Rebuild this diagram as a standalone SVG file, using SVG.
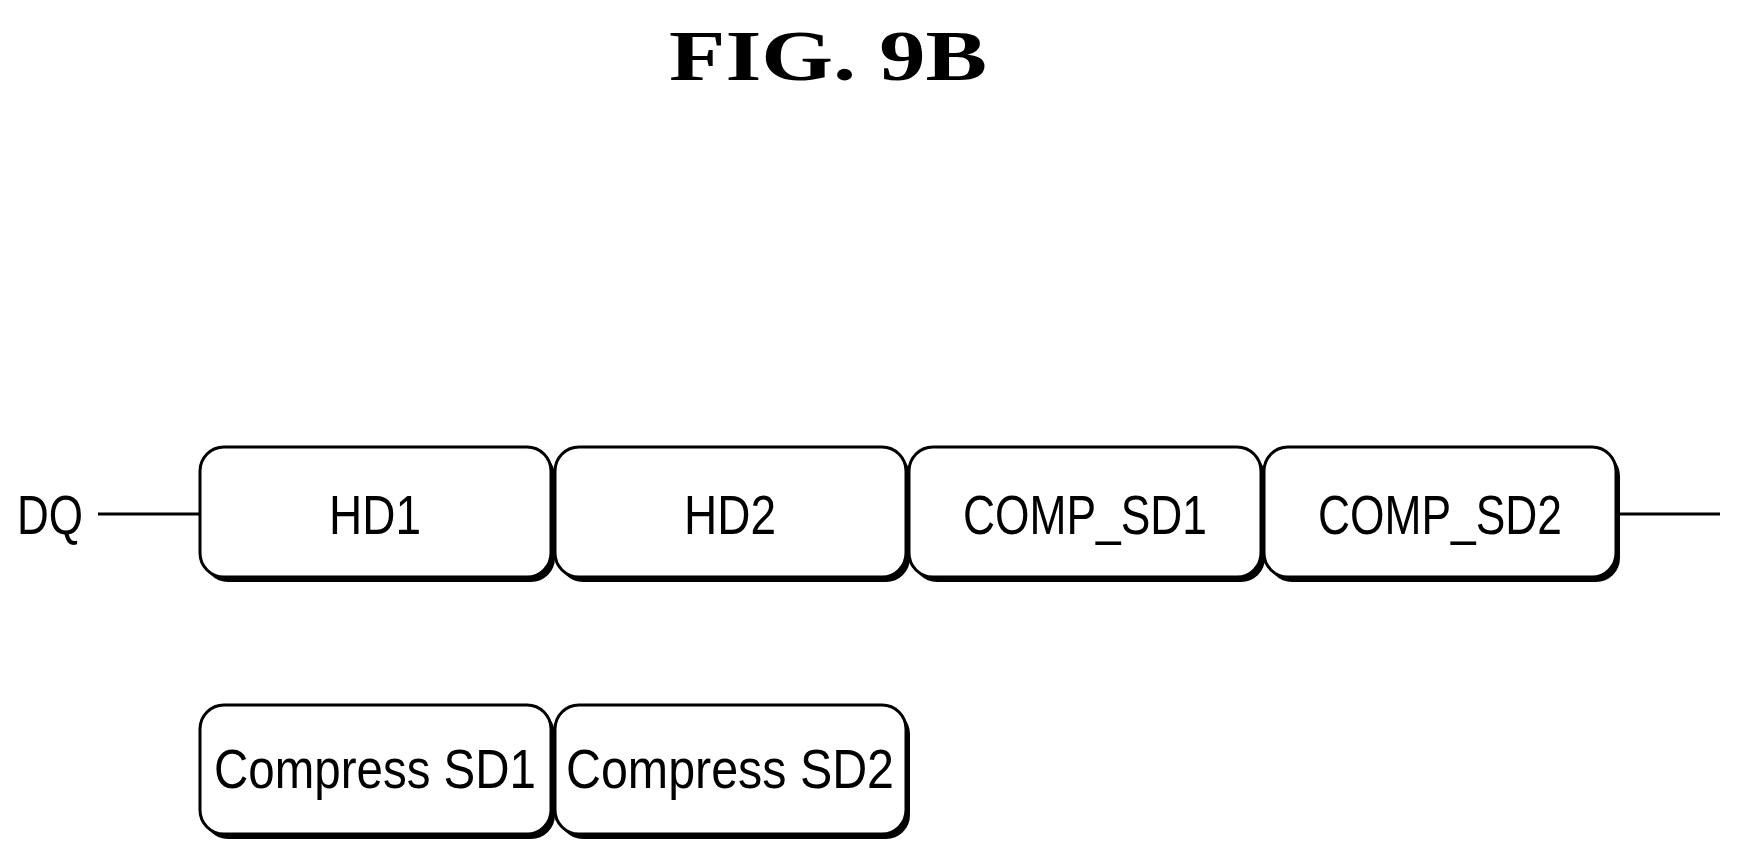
<svg xmlns="http://www.w3.org/2000/svg" width="1739" height="863" viewBox="0 0 1739 863">
<style>
.b{fill:#fff;stroke:#000;stroke-width:3}
.s{fill:#000}
.t{font-family:"Liberation Sans",Arial,sans-serif;font-size:56px;text-anchor:middle;fill:#000}
.ttl{font-family:"Liberation Serif","Times New Roman",serif;font-size:72px;font-weight:bold;text-anchor:middle}
</style>
<rect width="1739" height="863" fill="#fff"/>
<text class="ttl" x="828" y="80" textLength="318" lengthAdjust="spacingAndGlyphs">FIG. 9B</text>
<g id="connectors" stroke="#000" stroke-width="3">
<line x1="98" y1="514" x2="200" y2="514"/>
<line x1="1620" y1="514" x2="1720" y2="514"/>
</g>
<text class="t" x="50" y="534" textLength="66" lengthAdjust="spacingAndGlyphs">DQ</text>
<g id="hd1"><rect class="s" x="204" y="452" width="351" height="130" rx="24"/><rect class="b" x="200" y="447" width="351" height="130" rx="24"/><text class="t" x="375" y="534" textLength="92" lengthAdjust="spacingAndGlyphs">HD1</text></g>
<g id="hd2"><rect class="s" x="559" y="452" width="351" height="130" rx="24"/><rect class="b" x="555" y="447" width="351" height="130" rx="24"/><text class="t" x="730" y="534" textLength="92" lengthAdjust="spacingAndGlyphs">HD2</text></g>
<g id="comp_sd1"><rect class="s" x="913" y="452" width="352" height="130" rx="24"/><rect class="b" x="909" y="447" width="352" height="130" rx="24"/><text class="t" x="1085" y="534" textLength="244" lengthAdjust="spacingAndGlyphs">COMP_SD1</text></g>
<g id="comp_sd2"><rect class="s" x="1268" y="452" width="352" height="130" rx="24"/><rect class="b" x="1264" y="447" width="352" height="130" rx="24"/><text class="t" x="1440" y="534" textLength="244" lengthAdjust="spacingAndGlyphs">COMP_SD2</text></g>
<g id="compress_sd1"><rect class="s" x="204" y="710" width="351" height="129" rx="24"/><rect class="b" x="200" y="705" width="351" height="129" rx="24"/><text class="t" x="375" y="788" textLength="322" lengthAdjust="spacingAndGlyphs">Compress SD1</text></g>
<g id="compress_sd2"><rect class="s" x="559" y="710" width="351" height="129" rx="24"/><rect class="b" x="555" y="705" width="351" height="129" rx="24"/><text class="t" x="730" y="788" textLength="328" lengthAdjust="spacingAndGlyphs">Compress SD2</text></g>
</svg>
